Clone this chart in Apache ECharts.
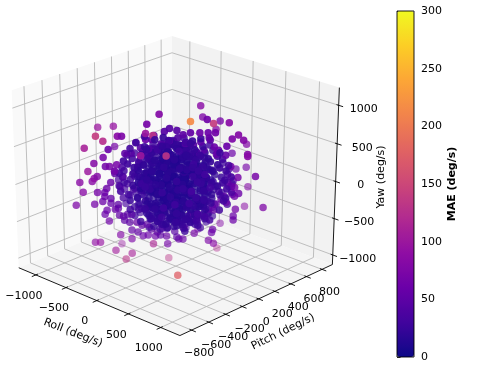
<!DOCTYPE html>
<html><head><meta charset="utf-8">
<style>html,body{margin:0;padding:0;background:#fff}#c{width:479px;height:388px}</style>
<script src="https://cdn.jsdelivr.net/npm/echarts@6/dist/echarts.min.js"></script>
</head><body><div id="c"></div>
<script>
// axis content
const rollTicks=[-1000,-500,0,500,1000];
const pitchTicks=[-800,-600,-400,-200,0,200,400,600,800];
const yawTicks=[-1000,-500,0,500,1000];
const rollLim=[-1290,1290], pitchLim=[-935,935], yawLim=[-1133,1227];
const plasma=['#0d0887','#41049d','#6a00a8','#8f0da4','#b12a90','#cc4778','#e16462','#f2844b','#fca636','#fcce25','#f0f921'];
// points: [roll, pitch, yaw, MAE]
const upperLeft=[[-140,-90,900,80],[-240,-160,770,70],[-960,-210,545,100],[-830,-120,560,95],[-667,-444,612,140],[-606,-404,545,125],[-485,-323,612,85],[-450,-300,612,75],[-251,-167,652,100],[-190,-127,625,130],[-640,5,345,65],[-820,-116,292,70],[-563,-375,439,60],[-762,-508,452,110],[-606,-404,332,70],[-684,-456,253,80],[-589,-392,213,65],[-554,-369,213,70],[-494,-329,239,70],[-736,-490,146,100],[-202,-565,346,65],[-658,-439,80,80],[-684,-456,53,90],[-701,-467,13,85],[-805,-537,0,85],[-546,-364,0,60],[-779,-519,-133,85],[-658,-439,-133,70],[-580,-387,-80,60],[-598,-398,-133,60],[-251,-167,572,60],[14,-420,546,100],[222,-282,546,130]];
const upperRight=[[-92,368,837,85],[-75,380,691,75],[121,81,811,215],[260,173,838,65],[312,208,785,140],[38,455,531,80],[72,478,638,70],[442,294,798,85],[121,81,665,55],[199,133,665,60],[268,179,665,60],[329,219,665,65],[286,190,572,50],[277,185,598,55],[520,346,638,80],[468,312,585,75],[563,375,572,80],[298,628,332,80],[424,283,492,60],[320,213,479,60],[355,237,439,60],[338,225,386,55],[176,547,212,60],[416,277,372,55],[598,398,386,80],[889,162,546,85],[459,306,226,70],[211,570,0,60],[298,628,26,70],[667,444,93,70],[520,346,80,70],[433,289,13,50],[315,640,-240,80],[468,312,-40,55],[494,329,-53,70],[476,317,-146,55],[528,352,-133,60],[494,329,-173,65]];
const lowerLeft=[[-840,-560,-306,75],[-684,-456,-293,70],[-598,-398,-426,60],[-580,-387,-372,60],[-563,-375,-519,65],[-468,-312,-705,80],[-684,-456,-811,90],[-641,-427,-811,95],[-768,-82,-1038,95],[-372,-248,-758,75],[-511,-340,-918,105],[-372,-248,-958,110],[-424,-283,-1037,130],[-190,-127,-825,115],[-69,-46,-825,70],[-261,112,-1160,130],[320,-220,-1040,175],[-372,-248,-638,55],[-329,-219,-532,60],[-320,-213,-665,55],[-277,-185,-718,60],[-234,-156,-705,60],[-208,-138,-625,50],[-156,-104,-665,50],[-173,-115,-718,60],[-130,-87,-705,50],[-78,-52,-718,60],[-9,-6,-652,45],[9,6,-732,50],[-113,-75,-612,45],[-242,-162,-559,50],[-286,-190,-572,55],[-390,-260,-532,50],[-433,-289,-505,50],[-476,-317,-439,55],[-442,-294,-452,50],[-407,-271,-426,50],[-372,-248,-426,45],[-485,-323,-346,55],[-511,-340,-359,60],[-546,-364,-279,55],[-615,-410,-253,60],[-598,-398,-186,60],[-546,-364,-213,55],[-485,-323,-293,50]];
const lowerRight=[[736,490,-319,75],[289,622,-506,85],[502,335,-346,70],[485,323,-439,60],[485,323,-492,60],[81,484,-745,80],[312,208,-625,60],[303,202,-665,60],[277,185,-771,75],[320,213,-811,85],[55,467,-1091,120],[156,104,-678,70],[-110,357,-825,70],[61,40,-758,60],[26,17,-758,60],[69,46,-612,60],[320,213,-359,55],[277,185,-346,50],[338,225,-279,55],[381,254,-213,60],[424,283,-253,60],[407,271,-173,55],[182,121,-519,50],[225,150,-426,50],[121,81,-426,45],[17,12,-519,45]];
const upperRim=[[-52,-35,718,45],[-95,-63,678,45],[-182,-121,625,50],[9,6,692,45],[61,40,638,50],[17,12,598,40],[-52,-35,559,40],[-121,-81,519,40],[-199,-133,572,50],[-294,-196,465,45],[-225,-150,452,40],[-372,-248,386,45],[-424,-283,386,50],[147,98,505,45],[234,156,439,45],[-442,-294,80,45],[-511,-340,120,50],[-468,-312,-53,45],[208,138,545,50],[78,52,519,40],[173,115,412,40]];
const core=[
[-60,-40,560,28],[40,-20,530,23],[-120,60,500,26],[90,50,545,30],[10,80,470,23],[-30,-90,510,24],[130,-60,485,28],[-170,-20,470,26],[60,120,445,21],[-90,110,430,24],
[-210,40,420,22],[190,30,435,25],[-140,-110,445,28],[150,-130,410,19],[-260,-70,395,30],[20,-150,400,23],[260,90,405,26],[-40,170,385,20],[110,160,370,22],[-190,140,360,24],
[-310,20,350,25],[300,-20,345,27],[-80,-190,360,18],[90,-210,330,21],[-240,-150,320,25],[240,-140,325,20],[-350,-60,310,28],[-130,220,300,23],[50,230,295,18],[200,190,310,22],
[340,60,290,24],[-300,120,280,21],[-20,20,330,16],[-90,-30,290,14],[70,-60,275,17],[130,40,260,15],[-170,60,245,18],[-220,-50,255,19],[20,120,240,13],[210,-60,235,21],
[-390,-130,250,31],[380,-90,240,26],[-60,-240,245,19],[160,-230,220,18],[-420,10,220,27],[410,30,225,30],[-310,-220,215,24],[290,-210,205,23],[-210,230,215,20],[130,260,205,21],
[-40,300,195,19],[290,170,195,21],[-340,170,185,22],[-110,-90,190,12],[50,-130,180,14],[-20,60,175,12],[100,90,160,12],[-150,120,155,15],[220,40,165,14],[-260,30,160,17],
[-430,-70,150,28],[440,-40,145,24],[-70,-290,150,20],[80,-300,135,19],[-360,-230,125,26],[360,-190,120,23],[-270,-140,130,18],[260,-120,115,16],[-170,-30,105,12],[10,-40,110,12],
[110,-10,95,12],[-60,140,100,12],[60,190,90,13],[190,130,85,13],[-240,190,80,18],[-390,90,95,23],[400,120,75,25],[310,40,90,16],[-330,-40,70,18],[-130,-190,75,15],
[140,-180,70,16],[-30,-110,50,12],[70,60,45,12],[-100,30,40,12],[170,-70,30,12],[-200,80,25,12],[20,240,35,15],[-90,270,15,17],[150,230,10,18],[280,120,25,17],
[-300,-100,15,16],[330,-70,10,19],[-450,-150,20,30],[470,-120,5,26],[-70,-230,5,15],[60,-260,-10,17],[-210,-210,-15,18],[230,-240,-5,20],[-350,70,-10,20],[360,60,-15,20],
[-10,10,-20,12],[100,-110,-35,12],[-130,-60,-40,12],[40,120,-45,12],[-60,90,-60,12],[210,20,-55,12],[-240,-20,-65,12],[-470,30,-55,30],[450,-10,-70,24],[-30,-170,-75,12],
[120,-200,-85,14],[-170,-150,-90,14],[290,-130,-95,16],[-310,-170,-100,20],[-160,210,-70,16],[60,300,-90,18],[190,200,-105,16],[-40,200,-115,13],[-290,170,-120,19],[340,170,-125,21],
[-400,-60,-130,22],[400,-100,-135,22],[-90,-30,-140,12],[30,-60,-150,12],[130,50,-145,12],[-190,50,-155,12],[250,-40,-165,13],[-280,-70,-170,15],[-40,-260,-175,17],[80,-310,-180,21],
[-420,110,-165,24],[420,100,-180,26],[-120,300,-185,21],[70,130,-190,12],[-70,130,-205,12],[190,120,-215,14],[-210,150,-225,17],[-340,-200,-220,24],[300,-220,-210,22],[-150,-230,-225,17],
[130,-240,-235,18],[20,-130,-240,12],[-100,-90,-250,12],[100,-50,-255,12],[-20,40,-260,12],[-250,-20,-265,15],[290,20,-270,17],[-380,40,-275,21],[370,-30,-280,23],[-60,-300,-285,21],
[40,260,-290,18],[-180,240,-295,20],[170,230,-300,21],[-330,120,-305,22],[300,130,-310,20],[-90,40,-315,13],[70,-10,-320,13],[180,-120,-325,15],[-180,-100,-330,15],[-30,-190,-335,16],
[110,-300,-340,23],[-290,-190,-345,23],[260,-200,-350,23],[-420,-50,-355,27],[400,-60,-345,28],[-140,120,-360,18],[90,170,-365,18],[-20,100,-375,15],[-240,60,-380,19],[220,60,-385,19],
[-70,-80,-390,17],[60,-110,-395,16],[-330,-80,-400,24],[310,-60,-405,23],[-100,-230,-410,22],[120,-210,-415,20],[-260,170,-420,24],[240,200,-425,25],[20,260,-430,24],[-110,250,-435,24],
[-190,-150,-440,22],[200,-140,-445,22],[-10,-30,-450,18],[-120,20,-460,20],[120,30,-465,18],[-330,30,-470,26],[320,20,-475,26],[-30,-240,-480,24],[-190,110,-490,25],[160,130,-495,24],
[30,140,-500,22],[-90,-120,-505,23],[90,-90,-515,22],[-250,-100,-520,27],[260,-90,-525,26],[-20,40,-535,24],[-140,40,-545,28],[130,-10,-555,26],[-50,-150,-565,30],[50,70,-575,28],
[-220,-190,35,28],[170,-290,55,24],[-110,-320,100,27],[240,260,130,22],[-300,240,30,25],[-150,320,170,26],[340,-270,-60,28],[-380,-260,-160,30],[-250,290,-230,28],[260,280,-90,24],
[40,330,-220,23],[-20,-350,-190,26],[-30,-340,90,26],[120,330,60,22],[-440,180,60,30],[450,170,-50,30],[-480,-220,-60,34],[490,-190,130,32],[-500,-20,280,34],[480,-20,-290,32]
];
const coreDense=[
[-35,-15,505,22],[75,-45,495,20],[-85,25,470,23],[25,45,480,19],[-155,65,450,25],[125,20,455,23],[-205,-35,430,26],[230,-15,425,21],[-275,30,395,25],[45,-105,425,20],
[-55,75,410,18],[160,75,395,20],[-125,-65,395,19],[-245,80,375,22],[-325,-25,375,26],[265,25,375,23],[85,-95,365,17],[-15,-65,355,16],[-175,35,345,18],[125,105,340,17],
[335,-55,330,23],[-395,-20,325,28],[205,-90,305,18],[-110,45,315,15],[-40,130,310,16],[60,25,320,14],[-270,-110,290,23],[-385,50,280,25],[395,-35,295,25],[-155,-155,290,20],
[130,-130,280,17],[15,-20,285,12],[280,40,265,18],[-60,-145,265,16],[-225,110,265,18],[-330,85,240,21],[100,-170,250,17],[170,110,240,15],[-100,190,235,17],[-15,-100,220,13],
[-150,-5,210,14],[60,20,205,12],[350,-10,215,20],[-440,-110,200,29],[-285,-80,195,18],[165,-40,195,13],[445,-85,190,26],[-210,-110,180,17],[250,100,170,17],[-70,-20,155,12],
[45,-80,150,12],[150,20,140,12],[-320,55,140,19],[345,100,135,21],[-110,70,130,12],[10,170,130,12],[-230,-170,125,19],[-460,-40,115,30],[-40,-60,80,12],[95,50,70,12],
[215,-130,60,15],[-160,170,60,16],[310,-130,55,19],[-280,110,60,17],[-385,-90,50,23],[-60,40,30,12],[25,-110,35,12],[410,-130,45,25],[-200,-100,35,13],[120,130,25,13],
[240,-30,10,12],[-130,90,5,12],[380,40,-5,22],[-410,-90,-15,25],[-250,40,-20,14],[30,-10,15,12],[-40,-180,-25,15],[160,-140,-25,14],[75,190,-30,15],[-20,130,-35,12],
[290,70,-45,16],[-360,-150,-50,23],[-165,-10,-50,12],[-320,20,-75,17],[130,75,-95,12],[30,-170,-100,13],[-90,-160,-105,14],[-30,50,-110,12],[240,-180,-100,19],[-250,80,-105,16],
[340,-10,-110,21],[-120,170,-120,16],[90,-50,-125,12],[-210,-130,-130,15],[-430,-170,-125,31],[170,40,-135,12],[430,-170,-60,28],[20,210,-130,16],[-60,-100,-165,12],[-340,-120,-150,20],
[130,-170,-165,16],[-180,-30,-190,12],[300,-100,-185,19],[-300,30,-195,17],[-110,220,-195,19],[10,-10,-205,12],[245,80,-195,17],[-30,160,-215,15],[80,-210,-220,17],[-240,-140,-215,19],
[350,60,-235,22],[-420,-90,-240,27],[-130,-30,-235,12],[60,40,-240,12],[-80,-220,-255,19],[200,-70,-260,15],[130,140,-265,17],[-210,100,-270,18],[-40,-100,-280,13],[-320,-120,-285,23],
[250,-150,-285,20],[20,190,-280,17],[-130,170,-310,20],[340,-140,-315,23],[-50,-10,-345,14],[150,60,-340,16],[-230,-50,-350,19],[30,-220,-360,21],[-140,-170,-365,20],[210,-30,-365,19],
[-320,30,-370,23],[310,80,-380,23],[-30,170,-395,20],[120,-130,-400,18],[-190,20,-410,20],[50,30,-420,18],[-70,-170,-425,21],[-410,-140,-355,30],[170,-60,-430,21],[-270,110,-445,25],
[200,50,-455,23],[-50,90,-465,21],[40,-180,-460,23],[-160,-80,-475,23],[90,-20,-490,22],[-40,-80,-495,23],[250,40,-495,27],[-260,10,-495,26],[-100,70,-515,25],[60,-150,-520,27],
[-70,-260,90,23],[-260,-60,100,16],[90,-240,110,18],[-330,-180,60,25],[280,-190,80,21],[-90,-120,125,13],[180,190,40,19],[-190,270,120,22],[70,280,140,19],[-80,330,50,24],
[190,-290,-140,28],[-180,-280,-30,26],[-230,230,-140,26],[230,160,-300,25],[-310,230,-60,28],[310,210,20,25],[-20,-290,40,22],[150,-280,-280,28],[-270,-240,-330,30],[90,280,-360,26],
[-40,-50,400,17],[120,-10,385,19],[-130,10,380,20],[30,-120,345,16],[-60,-10,240,12],[-200,10,300,18],[250,-60,280,20],[80,60,360,17],[-300,-140,345,28],[-120,100,220,15],
[-360,130,120,24],[385,10,130,23],[-480,-90,80,32],[470,50,60,30],[-370,-30,-60,21],[400,30,-120,24],[-500,-130,-180,36],[-460,-10,-260,32],[460,-90,-230,32],[440,70,-390,34]
];
const coreFill=[
[-260,-173,612,30],[46,-183,692,25],[-81,160,503,28],[208,138,588,27],[-179,-333,622,28],[-340,-13,418,29],[-35,-23,528,22],[271,-33,615,25],[136,304,412,28],
[-381,-254,452,32],[-92,-276,538,25],[-289,22,335,24],[17,12,447,19],[306,-10,535,23],[162,322,345,26],[-407,-271,366,32],[-136,-304,468,25],[-323,-1,254,22],[-52,-35,355,16],[237,-56,462,19],[58,252,262,19],[346,231,358,30],
[-283,-403,382,30],[-462,-94,172,27],[-208,-138,283,18],[72,-166,385,16],[-107,143,176,14],[173,115,277,15],[436,76,382,24],[248,379,175,28],
[-450,-300,205,34],[-196,-345,300,26],[-375,-36,95,19],[-104,-69,197,12],[176,-97,305,14],[-20,201,96,13],[260,173,203,18],[514,128,300,28],[300,414,100,32],
[-318,-426,222,34],[-514,-128,15,28],[-260,-173,122,17],[11,-206,218,13],[-167,102,20,12],[104,69,118,12],[375,36,224,18],[179,333,18,22],[433,289,122,32],
[-635,-209,-60,36],[-381,-254,42,28],[-118,-293,140,18],[-315,4,-62,12],[-43,-29,38,12],[219,-68,142,12],[40,241,-60,12],[294,196,42,20],[557,157,140,28],[335,437,-60,34],
[-476,-317,-42,36],[-205,-351,60,24],[-392,-48,-140,18],[-121,-81,-38,12],[150,-114,62,12],[-37,189,-142,12],[234,156,-40,14],[496,117,60,24],[300,414,-140,32],
[-309,-420,-18,34],[-488,-111,-222,26],[-217,-144,-118,14],[55,-177,-20,12],[-115,137,-222,12],[156,104,-122,12],[418,65,-18,19],[240,374,-220,28],[468,312,-118,36],
[-442,-294,-202,34],[-170,-327,-98,22],[-340,-13,-302,16],[-69,-46,-198,12],[211,-74,-100,12],[32,235,-300,14],[303,202,-202,22],[566,163,-98,30],
[-574,-169,-380,34],[-303,-202,-282,22],[-23,-229,-178,16],[-185,91,-382,14],[87,58,-278,12],[358,24,-180,17],[179,333,-380,22],[433,289,-282,32],
[-231,-368,-258,30],[-410,-59,-462,24],[-130,-87,-358,17],[150,-114,-260,14],[-20,201,-462,16],[242,162,-362,20],[514,128,-258,30],
[-346,-231,-442,28],[-75,-264,-338,22],[-237,56,-542,21],[52,35,-438,16],[323,1,-340,22],[162,322,-542,26],
[-144,-310,-418,30],[-306,10,-622,26],[-17,-12,-522,20],[271,-33,-418,24],[110,287,-622,28],[-225,-150,-598,30],[81,-160,-498,26],[-63,172,-702,28],[208,138,-602,30],
[-23,-229,662,26],[-167,102,458,24],[139,92,556,24],[-260,-173,476,26],[37,-189,578,22],[-98,149,382,20],[225,150,484,25],
[-496,-117,302,30],[-199,-133,398,21],[81,-160,505,17],[-63,172,298,16],[242,162,402,21],[514,128,498,28],
[-364,-242,322,28],[-392,-48,218,20],[37,-189,418,14],[17,12,318,12],[-3,212,222,13],[418,65,420,21],[390,260,318,30],
[-248,-379,342,28],[-268,-179,238,20],[-297,16,138,14],[133,-126,342,12],[113,75,242,12],[84,270,138,15],[496,117,342,24],[442,294,238,34],
[-433,-289,158,30],[-162,-322,262,20],[-323,-1,58,13],[-52,-35,162,12],[219,-68,262,12],[49,247,58,12],[312,208,158,22],[566,163,262,28],
[-600,-186,-22,34],[-320,-213,82,21],[-58,-252,182,14],[-237,56,-22,12],[43,29,78,12],[306,-10,182,12],[110,287,-22,16],[381,254,82,26],[609,192,182,34],
[-433,-289,2,28],[-162,-322,102,18],[-340,-13,-102,12],[-69,-46,-2,12],[202,-79,102,12],[15,224,-102,12],[277,185,2,17],[540,146,102,28],[326,431,-102,34],
[-583,-175,-182,32],[-144,-310,22,18],[-173,-115,-82,12],[-202,79,-182,12],[228,-62,22,12],[208,138,-78,13],[170,327,-182,22],[574,169,22,32],
[-398,-265,-158,30],[-418,-65,-262,19],[20,-201,-58,12],[0,0,-162,12],[-29,195,-262,12],[392,48,-58,15],[372,248,-158,28],
[-231,-368,-138,26],[-392,-48,-342,19],[-104,-69,-238,12],[176,-97,-138,12],[6,218,-342,15],[268,179,-242,19],[548,151,-138,30],
[-346,-231,-322,26],[-67,-258,-218,19],[-219,68,-422,18],[69,46,-318,14],[340,13,-218,18],[162,322,-422,24],
[-453,-88,-502,28],[-156,-104,-398,19],[133,-126,-298,16],[-20,201,-502,22],[277,185,-402,25],
[-58,-252,-378,23],[-52,-35,-482,18],[-46,183,-582,25],[392,48,-378,25],[-121,-81,-558,26],[202,-79,-458,25]
];
// view taken from the reference's box corners
const elev=26*Math.PI/180, azim=-46.4*Math.PI/180, camDist=10, scaleX=226.7, scaleY=197, centerX=175.8, centerY=179.5;
const se=Math.sin(elev),ce=Math.cos(elev),sa=Math.sin(azim),ca=Math.cos(azim);
function project(x,y,z){
  const X=(x-rollLim[0])/(rollLim[1]-rollLim[0])-.5, Y=(y-pitchLim[0])/(pitchLim[1]-pitchLim[0])-.5, Z=(z-yawLim[0])/(yawLim[1]-yawLim[0])-.5;
  const h=-sa*X+ca*Y, v=-se*ca*X-se*sa*Y+ce*Z, d=ce*ca*X+ce*sa*Y+se*Z, f=camDist/(camDist-d);
  return [centerX+scaleX*h*f, centerY-scaleY*v*f, d];
}
const [x0,x1]=rollLim,[y0,y1]=pitchLim,[z0,z1]=yawLim;
const panes=[
 {c:'#f9f9f9',p:[[x0,y0,z0],[x0,y1,z0],[x0,y1,z1],[x0,y0,z1]]},
 {c:'#f2f2f2',p:[[x0,y1,z0],[x1,y1,z0],[x1,y1,z1],[x0,y1,z1]]},
 {c:'#f5f5f5',p:[[x0,y0,z0],[x1,y0,z0],[x1,y1,z0],[x0,y1,z0]]}];
const gridPaths=[];
rollTicks.forEach(t=>gridPaths.push([[t,y0,z0],[t,y1,z0],[t,y1,z1]]));
pitchTicks.forEach(t=>gridPaths.push([[x1,t,z0],[x0,t,z0],[x0,t,z1]]));
yawTicks.forEach(t=>gridPaths.push([[x0,y0,t],[x0,y1,t],[x1,y1,t]]));
const axisPaths=[[[x0,y0,z0],[x1,y0,z0]],[[x1,y0,z0],[x1,y1,z0]],[[x1,y1,z0],[x1,y1,z1]]];
const tickPaths=[];
const ty=(y1-y0)*.025, tx=(x1-x0)*.025;
rollTicks.forEach(t=>tickPaths.push([[t,y0+ty*.5,z0],[t,y0-ty,z0]]));
pitchTicks.forEach(t=>tickPaths.push([[x1-tx*.5,t,z0],[x1+tx,t,z0]]));
yawTicks.forEach(t=>tickPaths.push([[x1-tx*.5,y1,t],[x1+tx,y1,t]]));
const fmt=v=>String(v).replace('-','\u2212');
const labels=[];
rollTicks.forEach(t=>{const p=project(t,y0,z0);labels.push({t:fmt(t),x:p[0]-12,y:p[1]+21})});
pitchTicks.forEach(t=>{const p=project(x1,t,z0);labels.push({t:fmt(t),x:p[0]+7.5,y:p[1]+23})});
yawTicks.forEach(t=>{const p=project(x1,y1,t);labels.push({t:fmt(t),x:p[0]+25,y:p[1]+4})});
labels.push({t:'Roll (deg/s)',x:73,y:333,r:-21});
labels.push({t:'Pitch (deg/s)',x:283,y:332,r:26});
labels.push({t:'Yaw (deg/s)',x:381,y:177,r:90});

const all=[...upperLeft,...upperRight,...lowerLeft,...lowerRight,...upperRim,...core,...coreDense,...coreFill];
const projected=all.map(a=>{const p=project(a[0],a[1],a[2]);return {p,m:a[3]}});
const ds=projected.map(o=>o.p[2]);
const dMin=Math.min(...ds),dMax=Math.max(...ds);
projected.sort((a,b)=>a.p[2]-b.p[2]);
const points=projected.map(o=>({value:[o.p[0],o.p[1],o.m],itemStyle:{opacity:.42+.5*Math.min(1,(o.p[2]-dMin)/(dMax-dMin)*1.35)}}));

function idx(list){return list.map((_,i)=>[i,0]);}
function poly(list,fn){return {type:'custom',coordinateSystem:'cartesian2d',xAxisIndex:0,yAxisIndex:0,silent:true,clip:false,animation:false,data:idx(list),renderItem:fn};}
const toPx=(api,pt)=>{const s=project(pt[0],pt[1],pt[2]);return api.coord([s[0],s[1]]);};
const lineSeries=(list,color,w)=>poly(list,(params,api)=>({type:'polyline',shape:{points:list[params.dataIndex].map(q=>toPx(api,q))},style:{stroke:color,lineWidth:w,fill:null}}));
const font='"DejaVu Sans"';
const chart=echarts.init(document.getElementById('c'),null,{renderer:'canvas'});
chart.setOption({
 animation:false,backgroundColor:'#fff',
 grid:[{left:0,top:0,width:479,height:388,show:false},{left:397,top:11,width:17,height:346,show:false}],
 xAxis:[{type:'value',min:0,max:479,show:false,gridIndex:0},{type:'value',min:0,max:1,show:false,gridIndex:1}],
 yAxis:[{type:'value',min:0,max:388,inverse:true,show:false,gridIndex:0},
  {type:'value',min:0,max:300,interval:50,gridIndex:1,position:'right',name:'MAE (deg/s)',nameLocation:'middle',nameRotate:90,nameGap:33,
   nameTextStyle:{fontFamily:font,fontSize:11,fontWeight:'bold',color:'#000'},
   axisLine:{show:false},axisTick:{show:true,length:3.5,lineStyle:{color:'#000',width:.8}},splitLine:{show:false},
   axisLabel:{fontFamily:font,fontSize:11,color:'#000',margin:7}}],
 visualMap:[{type:'continuous',min:0,max:300,dimension:2,seriesIndex:6,calculable:false,show:true,left:397,top:11,itemWidth:17,itemHeight:346,padding:0,showLabel:false,text:null,inRange:{color:plasma},hoverLink:false}],
 series:[
  poly(panes,(params,api)=>({type:'polygon',shape:{points:panes[params.dataIndex].p.map(q=>toPx(api,q))},style:{fill:panes[params.dataIndex].c}})),
  lineSeries(gridPaths,'#b8b8b8',.9),
  lineSeries(axisPaths,'#000',.9),
  lineSeries(tickPaths,'#000',.9),
  poly(labels,(params,api)=>{const l=labels[params.dataIndex],c=api.coord([l.x,l.y]);return {type:'text',x:c[0],y:c[1],rotation:(l.r||0)*Math.PI/180,style:{text:l.t,textAlign:'center',textVerticalAlign:'middle',fontFamily:font,fontSize:11,fill:'#000'}};}),
  {type:'custom',coordinateSystem:'cartesian2d',xAxisIndex:1,yAxisIndex:1,silent:true,clip:false,z:10,data:[[0,0]],renderItem:(params,api)=>{const a=api.coord([0,300]),b=api.coord([1,0]);return {type:'rect',shape:{x:a[0],y:a[1],width:b[0]-a[0],height:b[1]-a[1]},style:{fill:null,stroke:'#000',lineWidth:.9}};}},
  {type:'scatter',xAxisIndex:0,yAxisIndex:0,symbolSize:7.5,clip:false,silent:true,data:points,z:5}
 ]
});
</script></body></html>
